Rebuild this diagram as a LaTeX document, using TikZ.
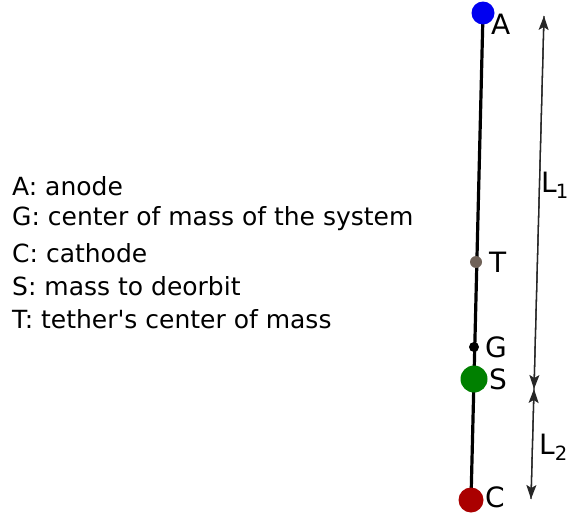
\documentclass[tikz,border=0pt]{standalone}
\usepackage{fontspec}
\setmainfont{DejaVu Sans}
\usetikzlibrary{arrows.meta}
\definecolor{anodeblue}{RGB}{0,0,240}
\definecolor{cathodered}{RGB}{170,0,0}
\definecolor{massgreen}{RGB}{0,128,0}
\definecolor{tethergrey}{RGB}{112,98,88}
\tikzset{
    ball/.style={circle, inner sep=0pt, minimum size=#1},
    lbl/.style={font=\fontsize{28}{32}\selectfont, anchor=west, inner sep=1pt},
    leg/.style={font=\fontsize{25}{30}\selectfont, anchor=west, inner sep=0pt},
    dim/.style={black!85, line width=1.3pt, -{Stealth[length=14pt, width=10pt, inset=3pt]}}
}

\begin{document}
\begin{tikzpicture}[x=1pt, y=-1pt]
        \useasboundingbox (0,0) rectangle (568,514);
        % Draw tether
        \coordinate (a) at (483,13);
        \coordinate (t) at (476,262);
        \coordinate (g) at (474,347);
        \coordinate (s) at (474,379);
        \coordinate (c) at (471,500);
        \draw[black, line width=3.2pt] (a) -- (c);
        % Draw masses
            \node[ball=23pt, fill=anodeblue] (A) at (a) {};
            \node[ball=12pt, fill=tethergrey] (T) at (t) {};
            \node[ball=10pt, fill=black] (G) at (g) {};
            \node[ball=27pt, fill=massgreen] (S) at (s) {};
            \node[ball=25pt, fill=cathodered] (C) at (c) {};
        % Add the point labels
            \node[lbl] (la) at (490,24) {A};
            \node[lbl] (lt) at (488,262) {T};
            \node[lbl] (lg) at (484,347) {G};
            \node[lbl] (ls) at (488,379) {S};
            \node[lbl] (lc) at (484,497) {C};
        % Draw lengths
        \coordinate (l1top) at (544,16);
        \coordinate (mid) at (534,389);
        \coordinate (l2bot) at (531,499);
        \draw[dim] (mid) -- (l1top);
        \draw[dim] (l1top) -- (mid);
        \draw[dim] (l2bot) -- (mid);
        \draw[dim] (mid) -- (l2bot);
            \node[lbl, inner sep=0pt] (l1) at (541,185) {L\kern-1pt\textsubscript{1}};
            \node[lbl] (l2) at (538,447) {L\textsubscript{2}};
        % Legend
        \foreach \y/\txt [count=\i] in {186/{A: anode}, 219/{G: center of mass of the system}, 253/{C: cathode}, 286/{S: mass to deorbit}, 319/{T: tether\textquotesingle s center of mass}}
            \node[leg] (leg\i) at (12,\y) {\txt};
\end{tikzpicture}
\end{document}
